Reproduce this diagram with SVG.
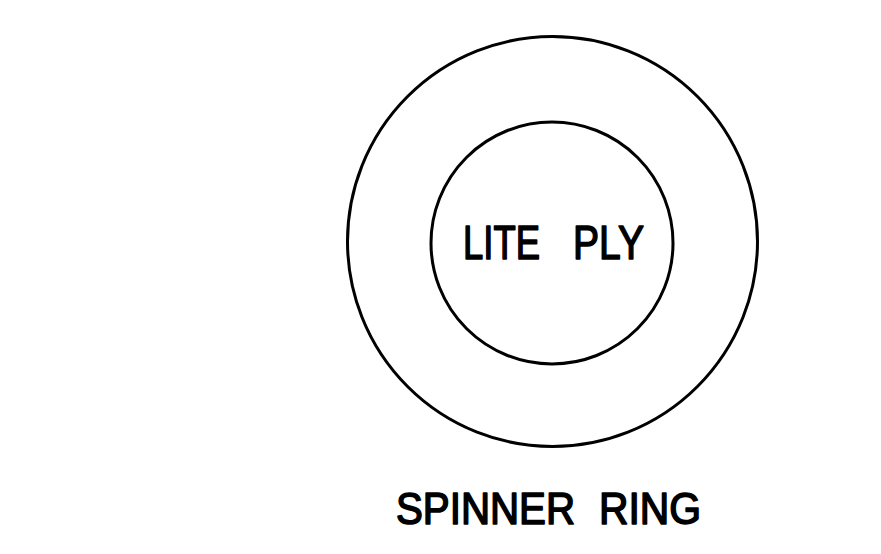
<svg xmlns="http://www.w3.org/2000/svg" width="881" height="554" viewBox="0 0 881 554">
<style>
.ring{fill:none;stroke:#000;stroke-width:3}
.lbl{font-family:"Liberation Sans",Arial,sans-serif;font-weight:normal;fill:#000;stroke:#000;stroke-width:1.6;stroke-linejoin:round}
</style>
<rect width="881" height="554" fill="#fff"/>
<g id="outer-ring">
<circle class="ring" cx="552.5" cy="241.5" r="205"/>
</g>
<g id="inner-ply">
<circle class="ring" cx="552" cy="243" r="121"/>
<text class="lbl" y="259" font-size="48"><tspan x="463" textLength="77" lengthAdjust="spacingAndGlyphs">LITE</tspan><tspan x="573" textLength="71" lengthAdjust="spacingAndGlyphs">PLY</tspan></text>
</g>
<g id="caption">
<text class="lbl" y="524" font-size="44"><tspan x="396" textLength="179" lengthAdjust="spacingAndGlyphs">SPINNER</tspan><tspan x="599" textLength="102" lengthAdjust="spacingAndGlyphs">RING</tspan></text>
</g>
</svg>
